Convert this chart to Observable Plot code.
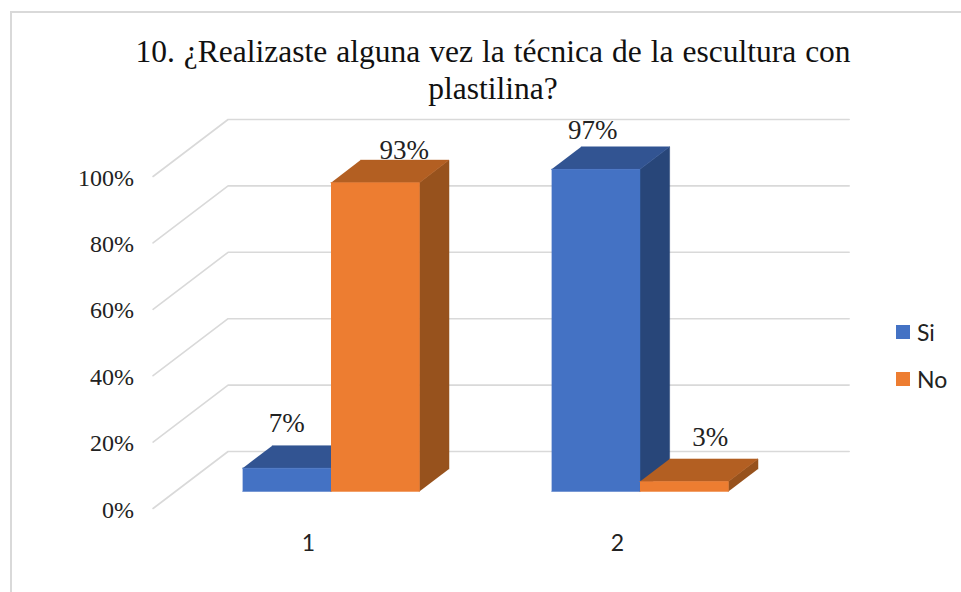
<!DOCTYPE html>
<html lang="es">
<head>
<meta charset="utf-8">
<script src="https://cdn.jsdelivr.net/npm/d3@7"></script>
<script src="https://cdn.jsdelivr.net/npm/@observablehq/plot@0.6"></script>
<style>
html,body{margin:0;padding:0;background:#fff;overflow:hidden}
#page{position:relative;width:961px;height:592px;overflow:hidden}
#frame{position:absolute;left:10px;top:11px;width:960px;height:600px;border-left:2px solid #d9d9d9;border-top:2px solid #d9d9d9}
#title{position:absolute;left:93px;top:33px;width:800px;text-align:center;font:31.5px/37px "Liberation Serif",serif;color:#111;word-spacing:1.15px}
#chart{position:absolute;left:0;top:0}
.lg{position:absolute;font:23px/24px Lato,sans-serif;color:#222;left:917px}
.sw{position:absolute;left:896px;width:14px;height:14px}
</style>
</head>
<body>
<div id="page">
  <div id="frame"></div>
  <div id="chart"></div>
  <div id="title">10. ¿Realizaste alguna vez la técnica de la escultura con<br>plastilina?</div>
  <div class="sw" style="top:325px;background:#4472C4"></div><div class="lg" style="top:320px">Si</div>
  <div class="sw" style="top:372px;background:#ED7D31"></div><div class="lg" style="top:367px">No</div>
</div>
<script>
const categories = [1, 2];
const seriesNames = ["Si", "No"];
const siValues = [7, 97];
const noValues = [93, 3];
const yTicks = [0, 20, 40, 60, 80, 100];

const palette = {
  Si: {front: "#4472C4", top: "#325492", side: "#284679"},
  No: {front: "#ED7D31", top: "#B35F22", side: "#97521D"}
};

// Depth projection in data units: d=0 front of floor, d=1 back wall
const depthX = 0.2427, depthY = 17.17;
const px = (x, d) => x + d * depthX;
const py = (v, d) => v + d * depthY;
const barFront = 0.30, barBack = 0.695, barWidth = 0.286;

const gridlines = yTicks.map(v => [
  {x: px(0.497, 0), y: py(v, 0)},
  {x: px(0.497, 1), y: py(v, 1)},
  {x: px(2.507, 1), y: py(v, 1)}
]);

const bars = categories.flatMap((c, i) => [
  {cat: c, name: "Si", value: siValues[i], x1: c - barWidth, x2: c},
  {cat: c, name: "No", value: noValues[i], x1: c, x2: c + barWidth}
]);

const face = (pts, fill) => Plot.line(pts.map(([x, d, v]) => ({x: px(x, d), y: py(v, d)})), {
  x: "x", y: "y", fill, stroke: fill, strokeWidth: 0.5
});

const barMarks = bars.flatMap(b => {
  const c = palette[b.name];
  return [
    face([[b.x2, barFront, 0], [b.x2, barFront, b.value], [b.x2, barBack, b.value], [b.x2, barBack, 0]], c.side),
    face([[b.x1, barFront, b.value], [b.x2, barFront, b.value], [b.x2, barBack, b.value], [b.x1, barBack, b.value]], c.top),
    face([[b.x1, barFront, 0], [b.x2, barFront, 0], [b.x2, barFront, b.value], [b.x1, barFront, b.value]], c.front)
  ];
});

// Hand placement of the data labels, as in the original chart
const labelShiftX = [0, 0.094, -0.01, 0.084];
const labelLift = [13.6, 9.6, 11.7, 13.3];
const labels = bars.map((b, i) => ({
  text: b.value + "%",
  x: px((b.x1 + b.x2) / 2, barFront) + labelShiftX[i],
  y: py(b.value, barFront) + labelLift[i]
}));

const serif = "Liberation Serif";
const chart = Plot.plot({
  width: 961,
  height: 592,
  marginLeft: 153.5,
  marginRight: 189.5,
  marginTop: 176,
  marginBottom: 84,
  x: {domain: [0.5, 2.5]},
  y: {domain: [0, 100]},
  style: {background: "transparent"},
  marks: [
    ...gridlines.map(g => Plot.line(g, {x: "x", y: "y", stroke: "#d9d9d9", strokeWidth: 1.6})),
    Plot.axisY({ticks: yTicks, tickSize: 0, tickPadding: 20, tickFormat: d => d + "%", label: null,
      fontFamily: serif, fontSize: 24, fill: "#222", dy: 1.5}),
    Plot.axisX({ticks: categories, tickSize: 0, tickPadding: 26, tickFormat: d => String(d), label: null,
      fontFamily: "Lato", fontSize: 23, fill: "#222"}),
    Plot.text(labels, {x: "x", y: "y", text: "text", fontFamily: serif, fontSize: 27, fill: "#222"}),
    ...barMarks
  ]
});
document.getElementById("chart").appendChild(chart);
</script>
</body>
</html>
